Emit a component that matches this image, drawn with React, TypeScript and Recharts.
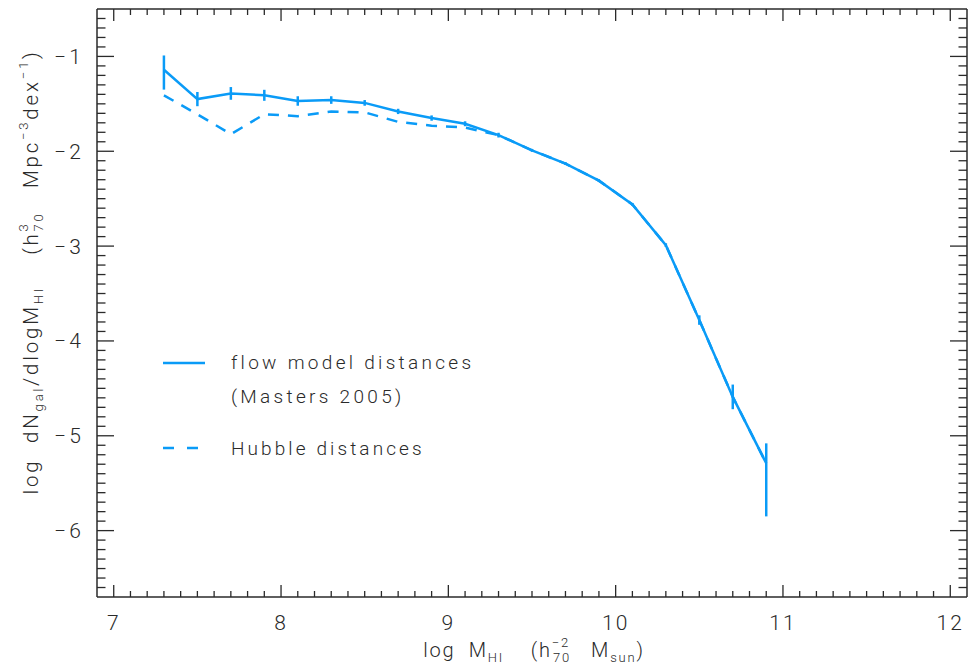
import React from 'react';
import { LineChart, Line, XAxis, YAxis, ErrorBar, Legend } from 'recharts';

// ---- data ----
const massBins = [7.3, 7.5, 7.7, 7.9, 8.1, 8.3, 8.5, 8.7, 8.9, 9.1, 9.3, 9.5, 9.7, 9.9, 10.1, 10.3, 10.5, 10.7, 10.9];
const flowModel = [-1.14, -1.45, -1.39, -1.41, -1.47, -1.46, -1.49, -1.58, -1.65, -1.71, -1.83, -1.99, -2.13, -2.31, -2.56, -2.99, -3.78, -4.59, -5.29];
const flowErrLow = [0.21, 0.075, 0.067, 0.058, 0.05, 0.04, 0.03, 0.028, 0.028, 0.026, 0.025, 0.015, 0.015, 0.015, 0.015, 0.02, 0.05, 0.13, 0.56];
const flowErrHigh = [0.15, 0.075, 0.067, 0.058, 0.05, 0.04, 0.03, 0.028, 0.028, 0.026, 0.025, 0.015, 0.015, 0.015, 0.015, 0.02, 0.05, 0.13, 0.21];
const hubble = [-1.41, -1.61, -1.82, -1.61, -1.63, -1.58, -1.59, -1.69, -1.73, -1.75, -1.83, -1.99, -2.13, -2.31, -2.56, -2.99, -3.78, -4.59, -5.29];

const xDomain: [number, number] = [6.9, 12.1];
const yDomain: [number, number] = [-6.7, -0.5];
const xMajorTicks = [7, 8, 9, 10, 11, 12];
const yMajorTicks = [-6, -5, -4, -3, -2, -1];

const legendLabels = ['flow model distances', '(Masters 2005)', 'Hubble distances'];

// minor tick positions (every 0.1)
const makeMinor = (from: number, to: number) => {
  const out: number[] = [];
  for (let i = Math.round(from * 10); i <= Math.round(to * 10); i++) out.push(Number((i / 10).toFixed(1)));
  return out;
};
const xTicks = makeMinor(7.0, 12.0);
const yTicks = makeMinor(-6.6, -0.6);

const data = massBins.map((m, i) => ({
  m,
  flow: flowModel[i],
  flowErr: [flowErrLow[i], flowErrHigh[i]],
  hubble: hubble[i],
}));

const BLUE = '#0a9bf7';
const INK = '#2a2a2a';
const FONT = 'Roboto, "Liberation Sans", sans-serif';

const isMajor = (v: number) => Math.abs(v - Math.round(v)) < 1e-6;

const BottomTick = (props: any) => {
  const { x, y, payload } = props;
  const v = payload.value;
  const major = isMajor(v) && xMajorTicks.includes(Math.round(v));
  return (
    <g>
      <line x1={x} x2={x} y1={y} y2={y - (major ? 12 : 6)} stroke={INK} strokeWidth={1.3} />
      {major && (
        <text x={x} y={y + 33} textAnchor="middle" fontSize={21} fontFamily={FONT} fontWeight={300} fill={INK} letterSpacing={2}>
          {String(Math.round(v))}
        </text>
      )}
    </g>
  );
};

const TopTick = (props: any) => {
  const { x, y, payload } = props;
  const major = isMajor(payload.value);
  return <line x1={x} x2={x} y1={y} y2={y + (major ? 12 : 6)} stroke={INK} strokeWidth={1.3} />;
};

const LeftTick = (props: any) => {
  const { x, y, payload } = props;
  const v = payload.value;
  const major = isMajor(v) && yMajorTicks.includes(Math.round(v));
  return (
    <g>
      <line x1={x} x2={x + (major ? 17 : 8.5)} y1={y} y2={y} stroke={INK} strokeWidth={1.3} />
      {major && (
        <text x={x - 13} y={y + 7.5} textAnchor="end" fontSize={21} fontFamily={FONT} fontWeight={300} fill={INK} letterSpacing={3}>
          {'\u2212' + String(Math.abs(Math.round(v)))}
        </text>
      )}
    </g>
  );
};

const RightTick = (props: any) => {
  const { x, y, payload } = props;
  const major = isMajor(payload.value);
  return <line x1={x} x2={x - (major ? 17 : 8.5)} y1={y} y2={y} stroke={INK} strokeWidth={1.3} />;
};

const XTitle = () => (
  <text x={534} y={657} textAnchor="middle" fontSize={20} fontFamily={FONT} fontWeight={300} fill={INK} letterSpacing={1.8} style={{ whiteSpace: 'pre' }}>
    <tspan>log  M</tspan>
    <tspan fontSize={13} dy={5}>HI</tspan>
    <tspan dy={-5}>{'    (h'}</tspan>
    <tspan fontSize={13} dy={-10}>{'\u22122'}</tspan>
    <tspan fontSize={13} dx={-17} dy={15}>70</tspan>
    <tspan dy={-5}>{'   M'}</tspan>
    <tspan fontSize={13} dy={5}>sun</tspan>
    <tspan dy={-5}>)</tspan>
  </text>
);

const YTitle = () => (
  <text x={38} y={272} transform="rotate(-90, 38, 272)" textAnchor="middle" fontSize={20.5} fontFamily={FONT} fontWeight={300} fill={INK} letterSpacing={2.8} style={{ whiteSpace: 'pre' }}>
    <tspan>log  dN</tspan>
    <tspan fontSize={13} dy={5}>gal</tspan>
    <tspan dy={-5}>/dlogM</tspan>
    <tspan fontSize={13} dy={5}>HI</tspan>
    <tspan dy={-5}>{'    (h'}</tspan>
    <tspan fontSize={13} dy={-10}>3</tspan>
    <tspan fontSize={13} dx={-10} dy={15}>70</tspan>
    <tspan dy={-5}>{'   Mpc'}</tspan>
    <tspan fontSize={13} dy={-10}>{'\u22123'}</tspan>
    <tspan dy={10}>dex</tspan>
    <tspan fontSize={13} dy={-10}>{'\u22121'}</tspan>
    <tspan dy={10}>)</tspan>
  </text>
);

const LegendContent = () => (
  <svg width={380} height={140} style={{ display: 'block' }}>
    <line x1={13} x2={55} y1={28} y2={28} stroke={BLUE} strokeWidth={2.5} />
    <text x={81} y={34} fontSize={19} fontFamily={FONT} fontWeight={300} fill={INK} letterSpacing={3.3}>{legendLabels[0]}</text>
    <text x={81} y={68} fontSize={19} fontFamily={FONT} fontWeight={300} fill={INK} letterSpacing={3.3}>{legendLabels[1]}</text>
    <line x1={13} x2={48} y1={113} y2={113} stroke={BLUE} strokeWidth={2.5} strokeDasharray="11 13" />
    <text x={81} y={120} fontSize={19} fontFamily={FONT} fontWeight={300} fill={INK} letterSpacing={3.1}>{legendLabels[2]}</text>
  </svg>
);

export default function App() {
  return (
    <div style={{ position: 'absolute', left: 0, top: 0, width: 968, height: 669, background: '#fff' }}>
      <LineChart width={968} height={669} data={data} margin={{ top: 0, right: 0, bottom: 0, left: 0 }}>
        <XAxis
          xAxisId="bottom"
          dataKey="m"
          type="number"
          domain={xDomain}
          allowDataOverflow
          ticks={xTicks}
          interval={0}
          orientation="bottom"
          height={72}
          tickSize={0}
          tickMargin={0}
          tick={<BottomTick />}
          axisLine={{ stroke: INK, strokeWidth: 1.5 }}
          tickLine={false}
          label={{ content: () => <XTitle /> }}
        />
        <XAxis
          xAxisId="top"
          dataKey="m"
          type="number"
          domain={xDomain}
          allowDataOverflow
          ticks={xTicks}
          interval={0}
          orientation="top"
          height={9}
          tickSize={0}
          tickMargin={0}
          tick={<TopTick />}
          axisLine={{ stroke: INK, strokeWidth: 1.5 }}
          tickLine={false}
        />
        <YAxis
          yAxisId="left"
          type="number"
          domain={yDomain}
          allowDataOverflow
          ticks={yTicks}
          interval={0}
          orientation="left"
          width={97}
          tickSize={0}
          tickMargin={0}
          tick={<LeftTick />}
          axisLine={{ stroke: INK, strokeWidth: 1.5 }}
          tickLine={false}
          label={{ content: () => <YTitle /> }}
        />
        <YAxis
          yAxisId="right"
          type="number"
          domain={yDomain}
          allowDataOverflow
          ticks={yTicks}
          interval={0}
          orientation="right"
          width={1}
          tickSize={0}
          tickMargin={0}
          tick={<RightTick />}
          axisLine={{ stroke: INK, strokeWidth: 1.5 }}
          tickLine={false}
        />
        <Line
          xAxisId="bottom"
          yAxisId="left"
          dataKey="hubble"
          stroke={BLUE}
          strokeWidth={2.5}
          strokeDasharray="11 9"
          dot={false}
          isAnimationActive={false}
        />
        <Line
          xAxisId="bottom"
          yAxisId="left"
          dataKey="flow"
          stroke={BLUE}
          strokeWidth={2.5}
          dot={false}
          isAnimationActive={false}
        >
          <ErrorBar dataKey="flowErr" width={0} stroke={BLUE} strokeWidth={2.5} direction="y" isAnimationActive={false} />
        </Line>
        <Legend
          verticalAlign="middle"
          align="center"
          layout="horizontal"
          content={() => <LegendContent />}
          wrapperStyle={{ left: 150, top: 335, width: 380, height: 140 }}
        />
      </LineChart>
    </div>
  );
}
